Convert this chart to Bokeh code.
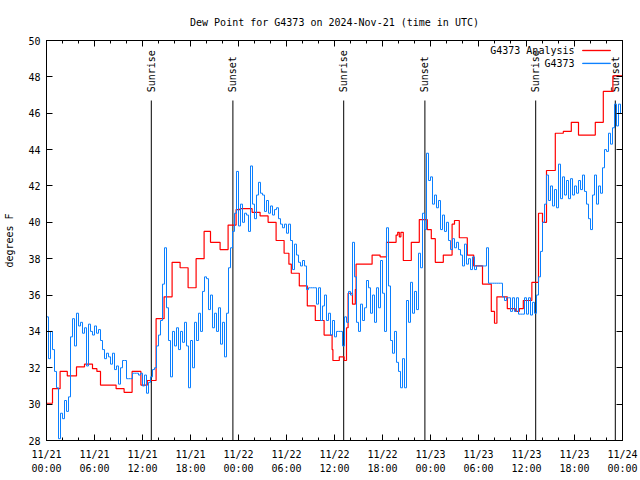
import numpy as np
from bokeh.plotting import figure
from bokeh.models import Range1d, FixedTicker, LinearAxis, Label, BoxAnnotation, CustomJSTickFormatter, ColumnDataSource
from bokeh.core.properties import value
from bokeh.embed import file_html
from bokeh.resources import INLINE

# ---------------- data ----------------
# hours since 2024-11-21 00:00 UTC
x_tick_hours = [0, 6, 12, 18, 24, 30, 36, 42, 48, 54, 60, 66, 72]
x_tick_dates = ["11/21", "11/21", "11/21", "11/21", "11/22", "11/22", "11/22", "11/22",
                "11/23", "11/23", "11/23", "11/23", "11/24"]
x_tick_times = ["00:00", "06:00", "12:00", "18:00", "00:00", "06:00", "12:00", "18:00",
                "00:00", "06:00", "12:00", "18:00", "00:00"]
y_ticks = [28, 30, 32, 34, 36, 38, 40, 42, 44, 46, 48, 50]

sun_hours = [13.1, 23.3, 37.15, 47.3, 61.15, 71.1]
sun_labels = ["Sunrise", "Sunset", "Sunrise", "Sunset", "Sunrise", "Sunset"]

analysis_hours = [0, 0.75, 1.7, 2.6, 3.75, 4.75, 5.75, 6.3, 6.75, 8.7, 9.7, 10.7, 11.8, 12.6, 13.7,
                  14.7, 15.7, 16.7, 17.7, 18.7, 19.7, 20.5, 21.7, 22.7, 23.7, 24.2, 25.7, 26.7, 27.7,
                  28.7, 29.7, 30.3, 30.6, 31.6, 32.6, 33.6, 34.7, 35.7, 35.8, 36.6, 37.2, 37.5, 37.7,
                  38.25, 38.6, 38.7, 40.7, 41.7, 42.5, 43.7, 43.9, 44.1, 44.3, 44.6, 45.6, 46.6, 47.6,
                  48.1, 48.6, 49.6, 50.7, 51.0, 51.6, 52.6, 53.4, 54.5, 55.6, 56.0, 56.3, 57.6, 58.6,
                  59.1, 59.6, 60.67, 61.5, 62.0, 62.5, 63.6, 64.6, 65.6, 66.5, 68.6, 69.6, 70.8, 72.0]
analysis_dewpt = [30.05, 30.85, 31.8, 31.55, 32.05, 32.2, 31.95, 31.8, 31.05, 30.85, 30.65, 31.8, 31.05, 31.3, 34.7,
                  35.9, 37.8, 37.5, 36.4, 38.0, 39.5, 38.9, 38.5, 39.85, 40.7, 40.75, 40.55, 40.35, 40.0,
                  39.0, 38.3, 37.7, 37.2, 36.5, 35.4, 34.6, 33.8, 33.0, 32.4, 32.6, 32.4, 34.2, 36.1,
                  35.5, 36.3, 37.7, 38.2, 38.1, 38.9, 39.3, 39.45, 39.2, 39.45, 37.9, 38.9, 40.15, 39.6,
                  39.1, 37.8, 38.2, 39.9, 40.1, 39.15, 38.2, 37.6, 36.6, 35.1, 34.45, 35.9, 35.25, 35.1,
                  35.25, 35.7, 36.7, 40.5, 40.0, 42.85, 44.9, 45.0, 45.5, 44.8, 45.5, 47.2, 48.05, 48.05]

# observations, one value every 15 minutes starting 11/21 00:00
obs_dewpt = [
    34.8, 32.5, 34.0, 33.0,  31.8, 30.9, 28.1, 29.5,  29.2, 30.2, 29.6, 30.4,  33.7, 34.7, 33.2, 35.0,
    34.3, 34.5, 33.9, 34.2,  32.1, 34.4, 34.0, 33.8,  34.3, 33.9, 34.1, 33.5,  33.0, 32.5, 32.8, 32.6,
    32.2, 32.8, 31.9, 32.1,  31.1, 32.0, 32.4, 32.4,  31.4, 31.4, 31.4, 31.7,  31.7, 31.7, 31.6, 31.7,
    31.0, 31.6, 30.6, 31.2,  31.5, 31.9, 32.0, 33.2,  33.8, 34.6, 36.6, 38.6,  35.3, 33.5, 31.5, 34.0,
    33.2, 34.2, 33.0, 34.0,  33.4, 34.5, 33.2, 30.9,  33.5, 32.0, 34.5, 33.5,  35.0, 34.0, 36.2, 37.0,
    36.9, 35.2, 36.0, 34.2,  35.0, 34.0, 35.3, 33.3,  34.5, 32.6, 35.0, 37.5,  38.6, 39.5, 40.5, 42.8,
    39.8, 41.0, 40.0, 40.5,  40.4, 39.5, 43.1, 41.0,  40.2, 41.5, 42.2, 41.6,  41.5, 40.6, 41.2, 40.5,
    40.9, 40.4, 40.7, 40.8,  40.2, 39.9, 39.7, 39.9,  39.4, 39.9, 39.0, 37.4,  38.8, 38.2, 37.8, 37.6,
    37.9, 37.6, 36.3, 36.4,  36.4, 36.4, 36.4, 35.5,  36.4, 34.6, 35.4, 36.0,  34.6, 35.0, 33.8, 34.6,
    33.7, 34.0, 34.0, 34.0,  33.2, 34.8, 34.5, 36.2,  36.0, 38.9, 37.0, 34.5,  34.0, 35.5, 34.6, 35.3,
    36.8, 36.4, 35.0, 36.0,  34.5, 36.4, 35.3, 37.9,  36.1, 34.0, 39.7, 36.5,  33.5, 32.8, 34.0, 32.3,
    31.8, 30.9, 32.5, 30.9,  35.7, 34.5, 36.7, 35.0,  36.2, 35.2, 38.3, 37.5,  40.5, 39.6, 43.8, 42.3,
    42.5, 41.0, 41.5, 40.8,  41.2, 39.6, 40.4, 39.5,  40.0, 39.0, 38.5, 39.1,  38.6, 38.9, 38.5, 38.2,
    37.6, 38.8, 37.7, 38.0,  37.4, 38.1, 37.4, 37.6,  37.6, 37.6, 37.6, 37.6,  38.6, 36.65, 36.65, 36.65,
    36.65, 36.65, 36.65, 36.65,  35.9, 35.7, 35.85, 35.85,  35.1, 35.85, 35.1, 35.85,  34.95, 34.95, 34.95, 35.85,
    34.95, 35.85, 34.9, 35.6,  35.0, 36.0, 37.0, 38.4,  40.0, 41.0, 42.6, 41.2,  42.0, 40.9, 41.8, 40.8,
    43.2, 41.3, 42.5, 41.5,  42.3, 41.3, 42.4, 41.5,  42.0, 41.6, 42.3, 41.8,  42.6, 41.7, 41.0, 40.2,
    39.6, 41.5, 42.6, 41.0,  42.0, 41.6, 43.0, 44.0,  43.9, 44.9, 44.3, 45.2,  46.5, 45.3, 46.5, 46.0,
]
obs_hours = [i * 0.25 for i in range(len(obs_dewpt))]

TITLE = "Dew Point for G4373 on 2024-Nov-21 (time in UTC)"
FONT = "DejaVu Sans Mono"
FS = "10px"
RED = "#ff0000"
BLUE = "#0a7fff"

# ---------------- figure ----------------
p = figure(width=640, height=480, output_backend="svg", toolbar_location=None,
           x_range=Range1d(0, 72), y_range=Range1d(28, 50),
           min_border_left=46, min_border_right=18, min_border_top=40, min_border_bottom=40,
           background_fill_color="white", border_fill_color="white")
p.grid.visible = False
p.outline_line_color = "black"
p.outline_line_width = 1

p.title.text = TITLE
p.title.align = "center"
p.title.text_font = FONT
p.title.text_font_size = FS
p.title.text_font_style = "normal"
p.title.text_color = "black"
p.title.standoff = 25

xt = FixedTicker(ticks=x_tick_hours, minor_ticks=list(range(0, 73, 2)))
yt = FixedTicker(ticks=y_ticks, minor_ticks=[])

xa = p.xaxis[0]
xa.ticker = xt
xa.major_label_overrides = {h: d + "\n" + t for h, d, t in zip(x_tick_hours, x_tick_dates, x_tick_times)}
ya = p.yaxis[0]
ya.ticker = yt
ya.axis_label = "degrees F"
ya.axis_label_text_font = FONT
ya.axis_label_text_font_size = FS
ya.axis_label_text_font_style = "normal"
ya.axis_label_text_color = "black"
ya.axis_label_standoff = 10

blank = CustomJSTickFormatter(code="return ''")
ra = LinearAxis(ticker=yt, formatter=blank)
ta = LinearAxis(ticker=xt, formatter=blank)
p.add_layout(ra, "right")
p.add_layout(ta, "above")

for ax in [xa, ya, ra, ta]:
    ax.major_tick_in = 6
    ax.major_tick_out = 0
    ax.minor_tick_in = 3
    ax.minor_tick_out = 0
    ax.axis_line_color = "black"
    ax.major_tick_line_color = "black"
    ax.minor_tick_line_color = "black"
    ax.major_label_text_font = FONT
    ax.major_label_text_font_size = FS
    ax.major_label_text_color = "black"
xa.major_label_standoff = 8
xa.major_label_text_line_height = 1.3
ya.major_label_standoff = 6
ra.major_label_standoff = 0
ta.major_label_standoff = 0

# sunrise / sunset markers
sun_src = ColumnDataSource(dict(x=sun_hours, label=sun_labels))
p.segment(x0="x", y0=28, x1="x", y1=46.7, source=sun_src, line_color="black", line_width=1)
p.text(x="x", y=47.15, text="label", source=sun_src, angle=np.pi / 2,
       text_align="left", text_baseline="middle",
       text_font=value(FONT), text_font_size=FS, text_color="black")

# series
p.step(analysis_hours, analysis_dewpt, mode="after", line_color=RED, line_width=1.2)
p.step(obs_hours, obs_dewpt, mode="after", line_color=BLUE, line_width=1.0)

# legend (gnuplot style: label then sample)
leg_items = [("G4373 Analysis", RED, 49.45), ("G4373", BLUE, 48.74)]
for txt, col, yy in leg_items:
    p.add_layout(Label(x=66.0, y=yy, text=txt, text_align="right", text_baseline="middle",
                       text_font=FONT, text_font_size=FS, text_color="black"))
    p.add_layout(BoxAnnotation(left=67.0, right=70.5, bottom=yy - 0.01, top=yy + 0.01,
                               fill_color=col, fill_alpha=1.0, line_color=col, line_width=1,
                               line_alpha=1.0))

open("out.html", "w").write(file_html(p, INLINE))
